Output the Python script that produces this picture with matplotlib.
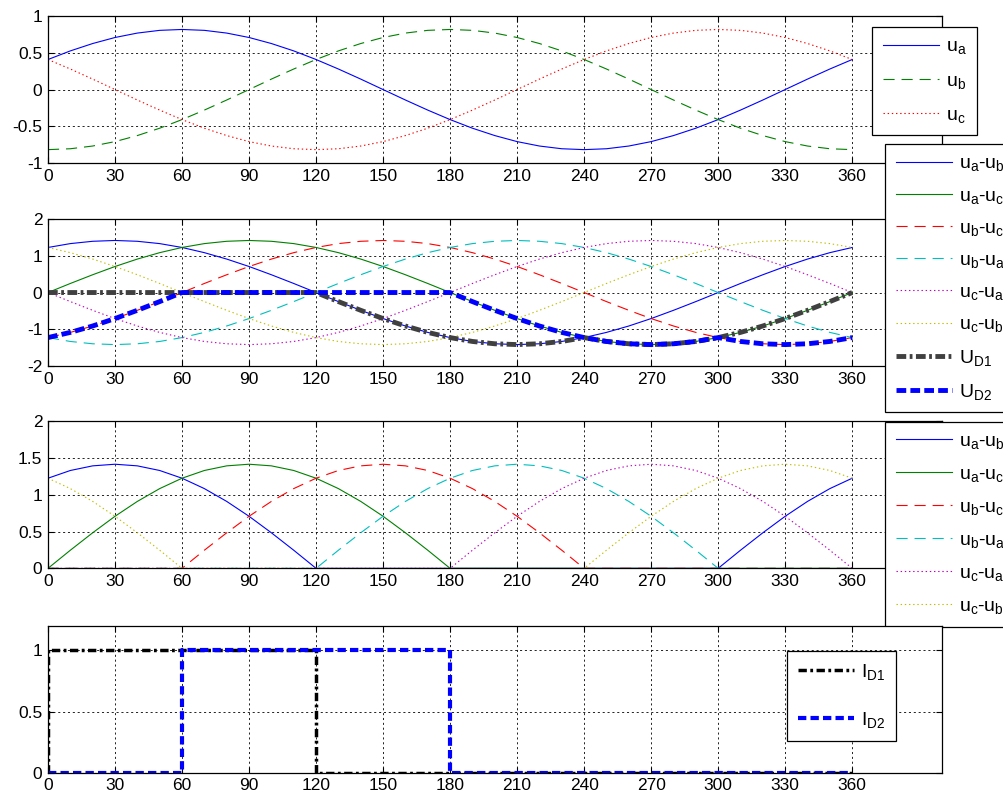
import numpy as np
import matplotlib
matplotlib.use("Agg")
import matplotlib.pyplot as plt

plt.rcParams['font.family'] = ['Liberation Sans', 'DejaVu Sans']
plt.rcParams['mathtext.default'] = 'regular'
plt.rcParams['lines.scale_dashes'] = False

# angle grid (degrees) and phase voltage u_a, every 10 deg
theta = np.arange(0, 370, 10)
u_a_vals = [0.408, 0.525, 0.625, 0.707, 0.767, 0.804, 0.816, 0.804, 0.767,
            0.707, 0.625, 0.525, 0.408, 0.279, 0.142, 0.0, -0.142, -0.279,
            -0.408, -0.525, -0.625, -0.707, -0.767, -0.804, -0.816, -0.804,
            -0.767, -0.707, -0.625, -0.525, -0.408, -0.279, -0.142, 0.0,
            0.142, 0.279]
phase_shift = 12  # 120 deg between phases, in samples

# diode conduction intervals (deg)
id1_on = [0, 120]
id2_on = [60, 180]

xticks = np.arange(0, 361, 30)

# build the three phases (closed at 360)
ua = np.array(u_a_vals)
ub = np.roll(ua, phase_shift)
uc = np.roll(ua, 2 * phase_shift)
ua, ub, uc = [np.append(v, v[0]) for v in (ua, ub, uc)]

line_v = [ua - ub, ua - uc, ub - uc, ub - ua, uc - ua, uc - ub]
line_lbl = ['u$_a$-u$_b$', 'u$_a$-u$_c$', 'u$_b$-u$_c$',
            'u$_b$-u$_a$', 'u$_c$-u$_a$', 'u$_c$-u$_b$']
U_D1 = ua - np.maximum(np.maximum(ua, ub), uc)
U_D2 = np.minimum(np.minimum(ua, ub), uc) - uc

DASH = (0, (8, 5))
DOT = (0, (1, 2))
cols6 = ['#0000ff', '#008000', '#ff0000', '#00bfbf', '#bf00bf', '#bfbf00']
sty6 = ['-', '-', DASH, DASH, DOT, DOT]

fig = plt.figure(figsize=(10.04, 7.96), dpi=100)
L, W, H = 0.0478, 0.890, 0.185
ax1 = fig.add_axes([L, 0.795, W, H])
ax2 = fig.add_axes([L, 0.540, W, H])
ax3 = fig.add_axes([L, 0.286, W, H])
ax4 = fig.add_axes([L, 0.029, W, H])


def style(ax, ylim, yticks):
    ax.set_xlim(0, 400)
    ax.set_ylim(*ylim)
    ax.set_xticks(xticks)
    ax.set_yticks(yticks)
    ax.set_yticklabels([f'{t:g}' for t in yticks])
    ax.grid(True, color='black', linestyle=(0, (1.5, 2)), linewidth=0.6)
    ax.tick_params(direction='in', top=True, right=True, length=4,
                   labelsize=12.5, pad=4)
    for s in ax.spines.values():
        s.set_linewidth(0.9)


def legend(ax, x, y, spacing):
    leg = ax.legend(loc='upper left', bbox_to_anchor=(x, y),
                    bbox_transform=fig.transFigure, borderaxespad=0,
                    fancybox=False, framealpha=1, edgecolor='black',
                    fontsize=14, handlelength=2.9, handletextpad=0.35,
                    labelspacing=spacing, borderpad=0.55)
    leg.get_frame().set_linewidth(0.9)
    leg.set_zorder(10)
    return leg


# 1. phase voltages
ax1.plot(theta, ua, color='#0000ff', lw=0.8, label='u$_a$')
ax1.plot(theta, ub, color='#008000', lw=0.8, ls=DASH, label='u$_b$')
ax1.plot(theta, uc, color='#ff0000', lw=0.8, ls=DOT, label='u$_c$')
style(ax1, (-1, 1), [-1, -0.5, 0, 0.5, 1])
legend(ax1, 0.8685, 0.966, 0.8)

# 2. line voltages and diode voltages
for v, c, s, lb in zip(line_v, cols6, sty6, line_lbl):
    ax2.plot(theta, v, color=c, ls=s, lw=0.8, label=lb)
ax2.plot(theta, U_D1, color='#404040', lw=3.5, ls=(0, (7, 2.5, 2, 2.5)),
         label='U$_{D1}$')
ax2.plot(theta, U_D2, color='#0000ff', lw=3.5, ls=(0, (7, 3)),
         label='U$_{D2}$')
style(ax2, (-2, 2), [-2, -1, 0, 1, 2])
legend(ax2, 0.8815, 0.819, 0.7)

# 3. positive parts of line voltages
for v, c, s, lb in zip(line_v, cols6, sty6, line_lbl):
    ax3.plot(theta, np.clip(v, 0, None), color=c, ls=s, lw=0.8, label=lb)
style(ax3, (0, 2), [0, 0.5, 1, 1.5, 2])
legend(ax3, 0.8815, 0.470, 0.74)

# 4. diode currents
for (a, b), c, s, lb, lw in zip([id1_on, id2_on], ['black', '#0000ff'],
                                [(0, (6, 2.5, 2, 2.5)), (0, (6, 3))],
                                ['I$_{D1}$', 'I$_{D2}$'], [2.5, 3.0]):
    xs = [xticks[0], a, a, b, b, xticks[-1]]
    ys = [0, 0, 1, 1, 0, 0]
    ax4.plot(xs, ys, color=c, ls=s, lw=lw, label=lb)
style(ax4, (0, 1.2), [0, 0.5, 1])
legend(ax4, 0.784, 0.182, 1.45)

fig.savefig('out.png', dpi=100)
